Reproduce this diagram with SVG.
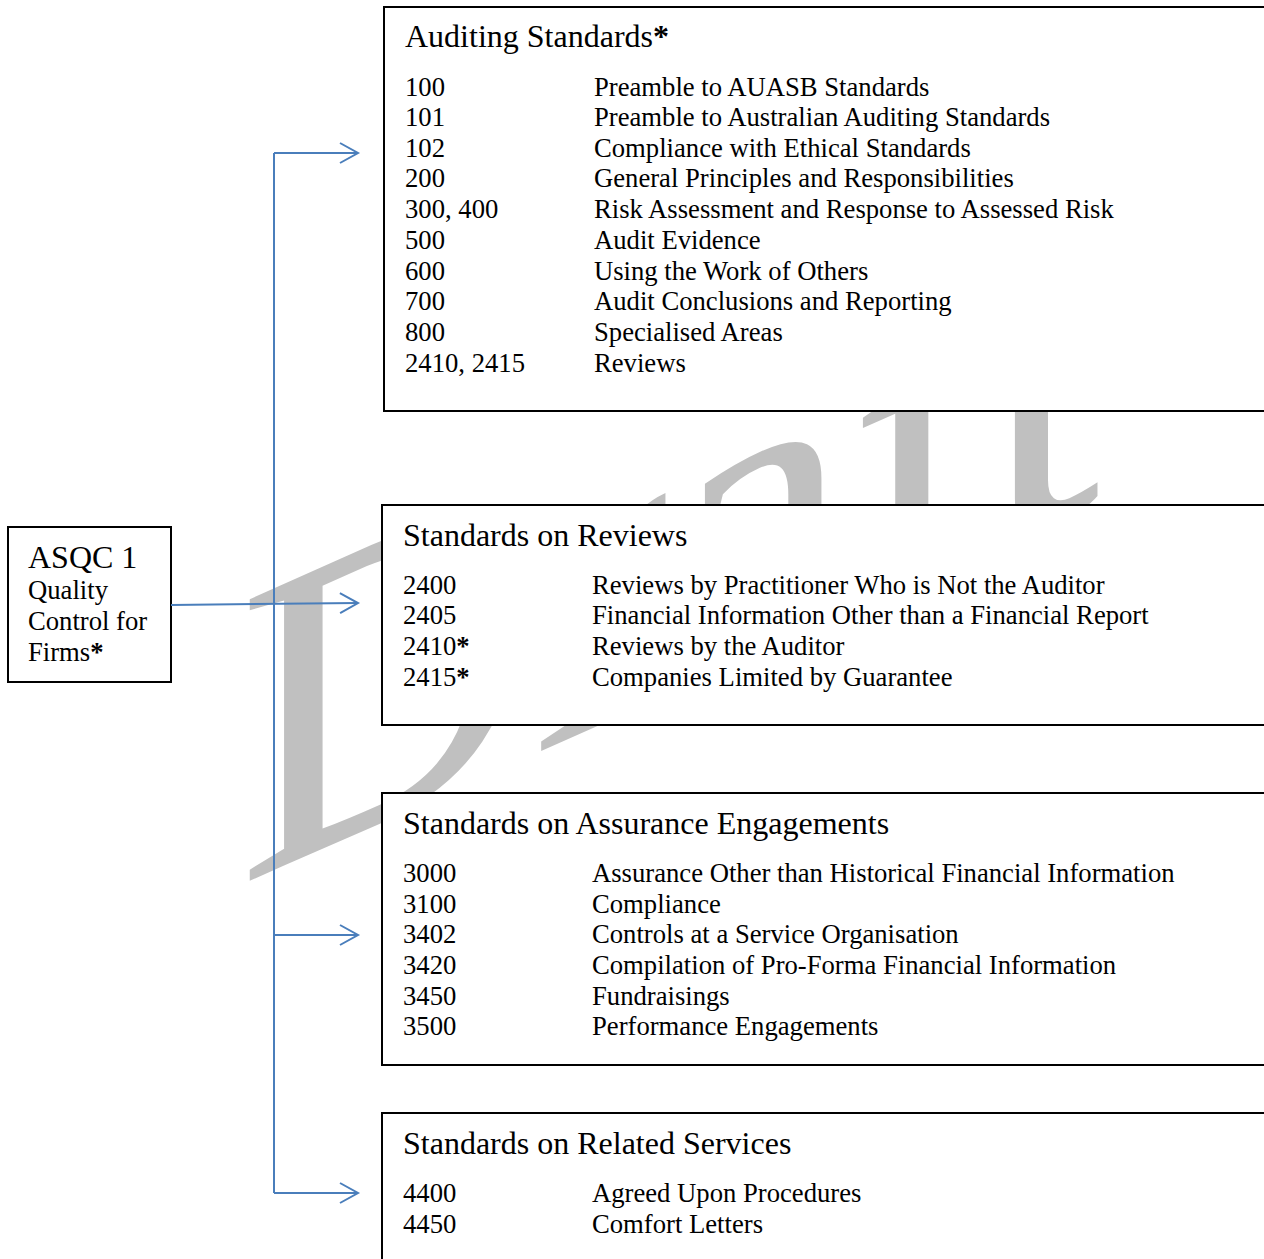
<svg xmlns="http://www.w3.org/2000/svg" width="1264" height="1259" viewBox="0 0 1264 1259">
<style>
text{font-family:"Liberation Serif","Times New Roman",serif;fill:#000}
.t{font-size:32px}
.b{font-size:26.67px}
.s{font-weight:bold}
.box{fill:#fff;stroke:#000;stroke-width:2}
.wm{font-family:"Liberation Serif","Times New Roman",serif;font-size:430px;fill:#c0c0c0}
.con{fill:none;stroke:#4a7ebb;stroke-width:2}
</style>
<defs>
<marker id="arr" markerUnits="userSpaceOnUse" markerWidth="24" markerHeight="24" refX="19" refY="11" orient="auto" viewBox="0 0 24 22">
<path d="M1,1 L19,11 L1,21" fill="none" stroke="#4a7ebb" stroke-width="2"/>
</marker>
</defs>
<rect width="1264" height="1259" fill="#fff"/>
<g id="watermark" transform="translate(238,886) skewY(-24) scale(0.95,1)">
<text class="wm" x="0" y="0">Draft</text>
</g>
<g id="asqc">
<rect class="box" x="8" y="527" width="163" height="155"/>
<text class="t" x="28" y="568">ASQC 1</text>
<text class="b" x="28" y="599">Quality</text>
<text class="b" x="28" y="630">Control for</text>
<text class="b" x="28" y="661">Firms<tspan class="s">*</tspan></text>
</g>
<g id="auditing">
<rect class="box" x="384" y="7" width="900" height="404"/>
<text class="t" x="405" y="47">Auditing Standards<tspan class="s">*</tspan></text>
<text class="b" x="405" y="96">100</text><text class="b" x="594" y="96">Preamble to AUASB Standards</text>
<text class="b" x="405" y="126">101</text><text class="b" x="594" y="126">Preamble to Australian Auditing Standards</text>
<text class="b" x="405" y="157">102</text><text class="b" x="594" y="157">Compliance with Ethical Standards</text>
<text class="b" x="405" y="187">200</text><text class="b" x="594" y="187">General Principles and Responsibilities</text>
<text class="b" x="405" y="218">300, 400</text><text class="b" x="594" y="218">Risk Assessment and Response to Assessed Risk</text>
<text class="b" x="405" y="249">500</text><text class="b" x="594" y="249">Audit Evidence</text>
<text class="b" x="405" y="280">600</text><text class="b" x="594" y="280">Using the Work of Others</text>
<text class="b" x="405" y="310">700</text><text class="b" x="594" y="310">Audit Conclusions and Reporting</text>
<text class="b" x="405" y="341">800</text><text class="b" x="594" y="341">Specialised Areas</text>
<text class="b" x="405" y="372">2410, 2415</text><text class="b" x="594" y="372">Reviews</text>
</g>
<g id="reviews">
<rect class="box" x="382" y="505" width="902" height="220"/>
<text class="t" x="403" y="546">Standards on Reviews</text>
<text class="b" x="403" y="594">2400</text><text class="b" x="592" y="594">Reviews by Practitioner Who is Not the Auditor</text>
<text class="b" x="403" y="624">2405</text><text class="b" x="592" y="624">Financial Information Other than a Financial Report</text>
<text class="b" x="403" y="655">2410<tspan class="s">*</tspan></text><text class="b" x="592" y="655">Reviews by the Auditor</text>
<text class="b" x="403" y="686">2415<tspan class="s">*</tspan></text><text class="b" x="592" y="686">Companies Limited by Guarantee</text>
</g>
<g id="assurance">
<rect class="box" x="382" y="793" width="902" height="272"/>
<text class="t" x="403" y="834">Standards on Assurance Engagements</text>
<text class="b" x="403" y="882">3000</text><text class="b" x="592" y="882">Assurance Other than Historical Financial Information</text>
<text class="b" x="403" y="913">3100</text><text class="b" x="592" y="913">Compliance</text>
<text class="b" x="403" y="943">3402</text><text class="b" x="592" y="943">Controls at a Service Organisation</text>
<text class="b" x="403" y="974">3420</text><text class="b" x="592" y="974">Compilation of Pro-Forma Financial Information</text>
<text class="b" x="403" y="1005">3450</text><text class="b" x="592" y="1005">Fundraisings</text>
<text class="b" x="403" y="1035">3500</text><text class="b" x="592" y="1035">Performance Engagements</text>
</g>
<g id="related">
<rect class="box" x="382" y="1113" width="902" height="170"/>
<text class="t" x="403" y="1154">Standards on Related Services</text>
<text class="b" x="403" y="1202">4400</text><text class="b" x="592" y="1202">Agreed Upon Procedures</text>
<text class="b" x="403" y="1233">4450</text><text class="b" x="592" y="1233">Comfort Letters</text>
</g>
<g id="connectors">
<path class="con" d="M274,1193 L274,153"/>
<path class="con" d="M274,153 L358,153" marker-end="url(#arr)"/>
<path class="con" d="M171,605 L358,603" marker-end="url(#arr)"/>
<path class="con" d="M274,935 L358,935" marker-end="url(#arr)"/>
<path class="con" d="M274,1193 L358,1193" marker-end="url(#arr)"/>
</g>
</svg>
